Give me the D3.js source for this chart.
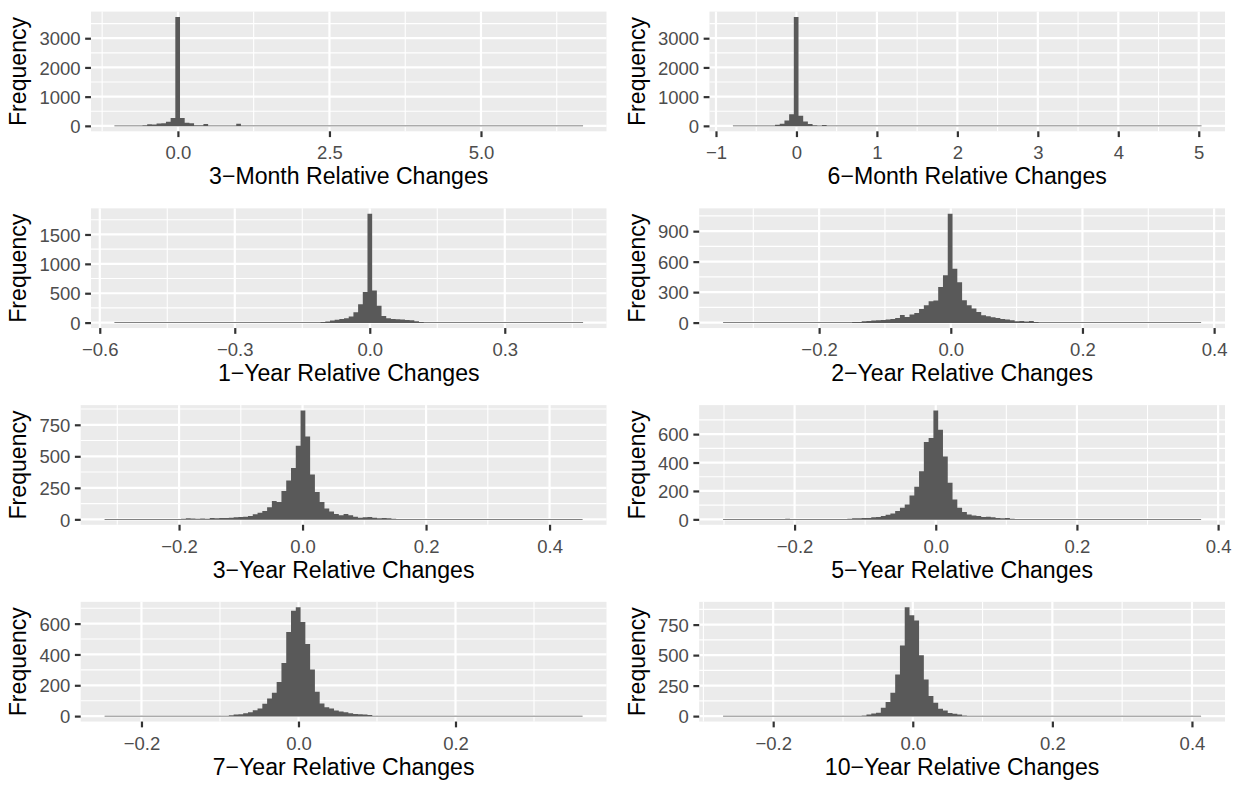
<!DOCTYPE html>
<html>
<head>
<meta charset="utf-8">
<script src="https://cdn.jsdelivr.net/npm/d3@7"></script>
<style>
  html, body { margin: 0; padding: 0; background: #ffffff; }
  svg { display: block; }
</style>
</head>
<body>
<div id="canvas"></div>
<script>
// Panel titles, read left to right, top to bottom.
var panelTitles = [
  "3−Month Relative Changes", "6−Month Relative Changes",
  "1−Year Relative Changes",  "2−Year Relative Changes",
  "3−Year Relative Changes",  "5−Year Relative Changes",
  "7−Year Relative Changes",  "10−Year Relative Changes"
];

// Outer edges of the 100 histogram bars of each panel.
var binLow  = [-1.048, -0.790, -0.5675, -0.3459, -0.3206, -0.3013, -0.2470, -0.2718];
var binHigh = [ 6.684,  5.035,  0.4740,  0.3802,  0.4535,  0.3759,  0.3619,  0.4131];

// Bin counts (100 bins per panel).
var counts3m = [
  1,2,2,3,4,8,20,57,46,80,
  92,138,270,3725,265,110,90,25,20,65,
  15,8,6,5,6,12,70,10,4,3,
  2,2,1,1,1,0,1,0,0,1,
  0,0,1,0,0,0,0,0,0,0,
  0,0,0,0,0,0,0,0,0,0,
  0,0,0,0,0,0,0,0,0,0,
  0,0,0,0,0,0,0,0,0,0,
  0,0,0,0,0,0,0,0,0,0,
  0,0,0,0,0,0,0,0,0,1];
var counts6m = [
  1,1,2,2,3,3,5,8,15,35,
  75,185,395,3725,350,145,60,25,12,30,
  8,4,3,3,2,2,2,1,1,1,
  1,0,1,0,0,1,0,0,0,0,
  0,0,0,0,0,0,0,0,0,0,
  0,0,0,0,0,0,0,0,0,0,
  0,0,0,0,0,0,0,0,0,0,
  0,0,0,0,0,0,0,0,0,0,
  0,0,0,0,0,0,0,0,0,0,
  0,0,0,0,0,0,0,0,0,1];
var counts1y = [
  1,0,0,0,0,0,0,0,0,0,
  0,0,0,0,0,0,0,0,0,0,
  0,0,0,0,1,0,0,1,0,1,
  1,1,1,2,2,2,2,3,3,3,
  4,5,6,8,10,20,35,50,62,75,
  105,175,313,519,1852,547,285,114,74,63,
  57,51,46,40,23,11,6,4,3,2,
  1,1,1,1,0,1,0,0,0,0,
  0,0,0,0,0,0,0,0,0,0,
  0,0,0,0,0,0,0,0,0,1];
var counts2y = [
  1,0,0,0,0,0,0,0,0,1,
  0,0,0,1,0,0,1,0,1,1,
  1,1,2,1,2,3,4,5,7,13,
  16,20,23,26,30,36,46,75,56,79,
  95,135,171,210,217,351,466,1071,529,397,
  220,171,138,105,72,62,53,46,36,30,
  23,13,16,10,15,5,3,2,1,1,
  1,0,1,0,0,1,0,0,0,0,
  0,0,0,0,0,0,0,0,0,0,
  0,0,0,0,0,0,0,0,0,1];
var counts3y = [
  1,0,0,1,0,1,1,1,2,1,
  2,2,3,2,3,3,5,8,6,4,
  7,5,10,8,11,11,13,16,18,21,
  26,40,53,66,97,145,137,224,308,408,
  584,863,658,355,216,137,87,63,42,32,
  42,32,21,13,16,18,13,8,10,8,
  5,3,3,2,2,1,1,1,1,0,
  1,0,0,1,0,0,0,0,0,0,
  0,0,0,0,0,0,0,0,0,0,
  0,0,0,0,0,0,0,0,0,1];
var counts5y = [
  1,0,0,0,0,0,0,0,1,0,
  1,1,2,5,2,1,1,2,1,1,
  2,1,2,2,2,3,5,7,7,9,
  9,14,16,23,33,42,58,82,105,168,
  229,338,545,572,766,630,443,257,140,82,
  51,35,28,23,16,19,14,9,7,9,
  5,3,3,2,2,1,1,1,0,1,
  0,0,1,0,0,0,0,0,0,0,
  0,0,0,0,0,0,0,0,0,0,
  0,0,0,0,0,0,0,0,0,1];
var counts7y = [
  1,0,0,0,0,0,0,0,0,0,
  0,0,1,0,0,0,1,0,1,0,
  1,1,1,1,2,3,5,10,12,18,
  25,38,50,80,114,151,222,345,546,684,
  706,611,468,302,158,82,58,50,37,30,
  25,18,14,12,10,8,3,2,1,1,
  1,0,1,0,0,0,0,0,0,0,
  0,0,0,0,0,0,0,0,0,0,
  0,0,0,0,0,0,0,0,0,0,
  0,0,0,0,0,0,0,0,0,1];
var counts10y = [
  1,0,0,0,0,0,0,0,0,0,
  0,0,0,0,0,0,0,0,0,0,
  0,0,1,0,1,1,1,2,3,6,
  14,22,27,68,115,191,341,578,892,826,
  783,499,300,164,109,60,46,25,19,14,
  4,2,1,1,0,1,0,0,0,0,
  0,0,0,0,0,0,0,0,0,0,
  0,0,0,0,0,0,0,0,0,0,
  0,0,0,0,0,0,0,0,0,0,
  0,0,0,0,0,0,0,0,0,1];
var panelCounts = [counts3m, counts6m, counts1y, counts2y, counts3y, counts5y, counts7y, counts10y];

// Axis breaks and their labels.
var xTickValues = [
  [0, 2.5, 5], [-1, 0, 1, 2, 3, 4, 5], [-0.6, -0.3, 0, 0.3], [-0.2, 0, 0.2, 0.4],
  [-0.2, 0, 0.2, 0.4], [-0.2, 0, 0.2, 0.4], [-0.2, 0, 0.2], [-0.2, 0, 0.2, 0.4]
];
var xTickLabels = [
  ["0.0", "2.5", "5.0"], ["−1", "0", "1", "2", "3", "4", "5"],
  ["−0.6", "−0.3", "0.0", "0.3"], ["−0.2", "0.0", "0.2", "0.4"],
  ["−0.2", "0.0", "0.2", "0.4"], ["−0.2", "0.0", "0.2", "0.4"],
  ["−0.2", "0.0", "0.2"], ["−0.2", "0.0", "0.2", "0.4"]
];
var yTickValues = [
  [0, 1000, 2000, 3000], [0, 1000, 2000, 3000], [0, 500, 1000, 1500], [0, 300, 600, 900],
  [0, 250, 500, 750], [0, 200, 400, 600], [0, 200, 400, 600], [0, 250, 500, 750]
];
var yTitle = "Frequency";

var width = 1237, height = 787,
    cellW = width / 2, cellH = height / 4;

var fontFamily = "'Liberation Sans', Arial, Helvetica, sans-serif",
    titleSize = 23.1,                   // axis titles
    tickSize = 18.5,                    // tick labels
    tickLen = 5.8,
    tickPad = 4.6,
    panelBg = "#ebebeb",
    barFill = "#595959",
    majorWidth = 2.2,
    minorWidth = 1.1;

var svg = d3.select("#canvas").append("svg")
            .attr("width", width)
            .attr("height", height)
            .style("background", "#ffffff");

// Width of the widest y tick label, so the panel can start after it.
var measureText = function(labels) {
  var t = svg.append("g");
  var w = 0;
  labels.forEach(function(s) {
    var n = t.append("text").attr("font-family", fontFamily).attr("font-size", tickSize).text(s);
    w = Math.max(w, n.node().getComputedTextLength());
  });
  t.remove();
  return w;
};

// Minor breaks sit half way between majors, also one step outside them.
var minorBreaks = function(majors, domain) {
  var step = majors[1] - majors[0], out = [];
  for (var v = majors[0] - step / 2; v <= domain[1]; v += step)
    if (v >= domain[0]) out.push(v);
  return out;
};

var drawPanel = function(i) {
  var col = i % 2, row = Math.floor(i / 2);
  var g = svg.append("g")
             .attr("transform", "translate(" + (col * cellW) + "," + (row * cellH) + ")");

  var counts = panelCounts[i];
  var labelW = measureText(yTickValues[i].map(String));
  var left = 49.8 + labelW, right = 606.5, top = 11.6, bottom = 131.3;

  var span = binHigh[i] - binLow[i];
  var x = d3.scaleLinear()
            .domain([binLow[i] - 0.05 * span, binHigh[i] + 0.05 * span])
            .range([left, right]);
  var maxC = d3.max(counts);
  var y = d3.scaleLinear()
            .domain([-0.05 * maxC, 1.05 * maxC])
            .range([bottom, top]);

  // Panel background.
  g.append("rect")
   .attr("x", left).attr("y", top)
   .attr("width", right - left).attr("height", bottom - top)
   .attr("fill", panelBg);

  // Grid lines: minor first, then major.
  var grid = g.append("g").attr("stroke", "#ffffff");
  grid.selectAll(".xminor").data(minorBreaks(xTickValues[i], x.domain())).enter()
      .append("line")
      .attr("x1", function(d) { return x(d); }).attr("x2", function(d) { return x(d); })
      .attr("y1", top).attr("y2", bottom)
      .attr("stroke-width", minorWidth);
  grid.selectAll(".yminor").data(minorBreaks(yTickValues[i], y.domain())).enter()
      .append("line")
      .attr("y1", function(d) { return y(d); }).attr("y2", function(d) { return y(d); })
      .attr("x1", left).attr("x2", right)
      .attr("stroke-width", minorWidth);
  grid.selectAll(".xmajor").data(xTickValues[i]).enter()
      .append("line")
      .attr("x1", function(d) { return x(d); }).attr("x2", function(d) { return x(d); })
      .attr("y1", top).attr("y2", bottom)
      .attr("stroke-width", majorWidth);
  grid.selectAll(".ymajor").data(yTickValues[i]).enter()
      .append("line")
      .attr("y1", function(d) { return y(d); }).attr("y2", function(d) { return y(d); })
      .attr("x1", left).attr("x2", right)
      .attr("stroke-width", majorWidth);

  // Histogram bars drawn as one stepped shape, so no seams show between
  // neighbouring bins. Empty bins still leave a hairline like the R device does.
  var binW = span / counts.length;
  var steps = counts.map(function(c, j) { return { x0: binLow[i] + j * binW, n: c }; });
  steps.push({ x0: binHigh[i], n: counts[counts.length - 1] });
  var hist = d3.area()
               .curve(d3.curveStepAfter)
               .x(function(d) { return x(d.x0); })
               .y0(y(0) + 0.4)
               .y1(function(d) { return Math.min(y(d.n), y(0) - 0.4); });
  g.append("path")
   .datum(steps)
   .attr("d", hist)
   .attr("fill", barFill);

  // Axes.
  var xAxis = g.append("g")
               .attr("transform", "translate(0," + bottom + ")")
               .call(d3.axisBottom(x).tickValues(xTickValues[i])
                       .tickFormat(function(d, j) { return xTickLabels[i][j]; })
                       .tickSize(tickLen).tickPadding(tickPad));
  var yAxis = g.append("g")
               .attr("transform", "translate(" + left + ",0)")
               .call(d3.axisLeft(y).tickValues(yTickValues[i])
                       .tickFormat(d3.format("d"))
                       .tickSize(tickLen).tickPadding(tickPad));
  [xAxis, yAxis].forEach(function(a) {
    a.select(".domain").remove();
    a.selectAll(".tick line").attr("stroke", "#333333").attr("stroke-width", majorWidth);
    a.selectAll(".tick text")
     .attr("fill", "#4d4d4d")
     .attr("font-family", fontFamily)
     .attr("font-size", tickSize);
  });
  xAxis.selectAll(".tick text").attr("dy", "0.95em");
  yAxis.selectAll(".tick text").attr("dy", "0.36em");

  // Axis titles.
  g.append("text")
   .attr("x", (left + right) / 2).attr("y", bottom + 53)
   .attr("text-anchor", "middle")
   .attr("font-family", fontFamily).attr("font-size", titleSize)
   .attr("fill", "#000000")
   .text(panelTitles[i]);
  g.append("text")
   .attr("transform", "translate(26," + ((top + bottom) / 2) + ") rotate(-90)")
   .attr("text-anchor", "middle")
   .attr("font-family", fontFamily).attr("font-size", titleSize)
   .attr("fill", "#000000")
   .text(yTitle);
};

for (var i = 0; i < panelTitles.length; i++) drawPanel(i);
</script>
</body>
</html>
